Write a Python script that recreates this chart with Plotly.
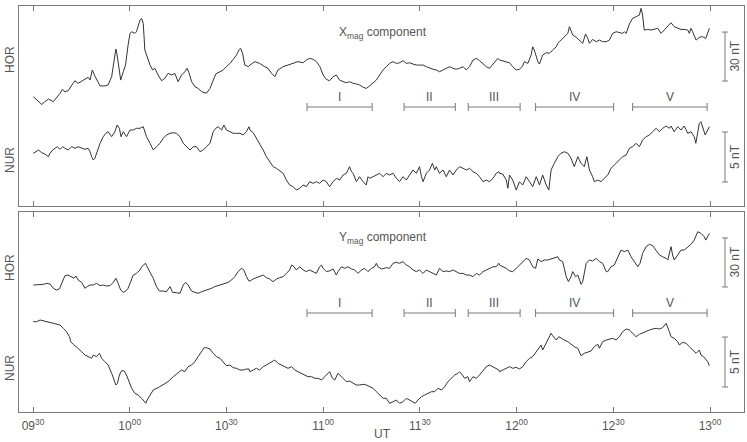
import plotly.graph_objects as go

# ---------------- data (minutes after 09:30 UT, field in nT, arbitrary baselines) ----------------
tick_vals = [0, 30, 60, 90, 120, 150, 180, 210]
tick_text = ["09<sup>30</sup>", "10<sup>00</sup>", "10<sup>30</sup>", "11<sup>00</sup>",
             "11<sup>30</sup>", "12<sup>00</sup>", "12<sup>30</sup>", "13<sup>00</sup>"]

interval_names = ["I", "II", "III", "IV", "V"]
interval_start = [85.0, 115.1, 135.0, 155.9, 186.0]
interval_end = [105.2, 131.0, 151.1, 180.1, 209.1]

# X_mag component, HOR
t_hor_x = [0.1, 1.3, 2.7, 3.7, 4.8, 6.3, 7.3, 8.4, 9.1, 9.9, 10.9, 12.0, 13.0, 14.0, 15.1, 16.1, 17.1, 17.7, 18.4, 19.2,
           20.8, 22.3, 23.3, 24.4, 24.9, 25.4, 25.7, 26.1, 26.7, 27.2, 28.0, 28.7, 29.5, 30.1, 30.6, 31.6, 32.1, 32.6,
           33.2, 33.7, 34.2, 34.7, 35.2, 36.3, 37.1, 37.8, 38.8, 39.9, 40.9, 41.9, 43.0, 44.0, 45.0, 46.1, 47.1, 47.8,
           48.4, 49.2, 50.2, 51.2, 52.3, 53.3, 53.8, 54.9, 55.9, 56.7, 58.0, 59.0, 60.0, 61.1, 62.1, 63.1, 64.0, 64.4,
           65.0, 65.7, 66.8,
           67.3, 68.8, 70.3, 71.9, 72.9, 74.0, 75.0, 76.0, 77.6, 79.1, 80.7, 82.2, 83.8, 84.8, 85.8, 86.9, 87.9, 89.0,
           90.0, 91.0, 92.0, 93.1, 94.1, 95.1, 96.2, 97.2, 98.2, 99.3, 100.3, 101.3, 102.4, 103.4, 104.4, 105.5, 106.5,
           107.5, 108.6, 109.6, 110.6, 111.7, 112.7, 113.7, 114.8, 115.8, 116.8, 117.9, 118.9, 119.9, 121.0, 122.0,
           123.0, 124.1, 125.1, 126.1, 127.2, 128.2, 129.2, 130.3, 131.3, 132.3, 133.4, 134.4, 135.4, 136.5, 137.5,
           138.5, 139.6, 140.6, 141.6, 143.2, 144.2,
           144.7, 146.2, 147.8, 148.8, 149.9, 150.9, 151.9, 152.4, 153.5, 154.5, 155.0, 155.5, 156.6, 157.1, 157.6,
           158.1, 159.2, 160.2, 161.2, 162.3, 162.8, 163.8, 164.8, 165.9, 166.4, 166.9, 167.4, 168.5, 169.5, 170.5,
           171.4, 172.1, 172.6, 173.6, 174.7, 175.7, 176.7, 177.8, 178.8, 179.8, 180.9, 181.9, 182.9, 183.4, 184.0,
           185.0, 186.0, 187.1, 188.1, 188.6, 189.1, 189.6, 190.7, 191.7, 192.7, 193.8, 194.8, 195.8, 196.9, 197.9,
           198.9, 200.0, 201.0, 202.0, 203.1, 203.6, 204.1, 204.6, 205.7, 206.7, 207.7, 208.7, 209.3, 209.8]
v_hor_x = [2.0, 0.0, -2.7, -1.0, 0.6, -1.0, 1.4, 4.1, 6.5, 5.1, 5.7, 9.2, 11.8, 10.2, 11.6, 12.6, 13.9, 12.2, 18.4, 14.7,
           8.6, 8.6, 9.2, 14.3, 20.4, 28.6, 31.2, 27.5, 17.3, 12.2, 17.3, 21.4, 33.7, 40.8, 41.8, 40.8, 41.8, 44.9,
           49.0, 50.0, 46.9, 30.6, 27.5, 21.4, 18.4, 19.4, 15.3, 11.8, 13.3, 16.3, 15.3, 16.3, 11.2, 15.3, 17.3, 19.4,
           16.7, 11.2, 8.2, 7.1, 5.1, 4.1, 4.1, 7.1, 12.2, 15.9, 17.3, 18.4, 20.4, 22.4, 24.9, 27.5, 31.0, 31.6,
           28.6, 21.4, 20.4,
           21.4, 23.5, 22.4, 20.4, 19.4, 16.3, 14.3, 18.4, 20.4, 21.4, 22.4, 23.5, 22.8, 24.5, 25.5, 24.9, 23.5, 20.4,
           15.3, 12.6, 11.8, 14.3, 15.3, 12.2, 11.2, 10.6, 11.2, 10.2, 9.8, 9.2, 7.8, 7.1, 8.6, 10.2, 12.2,
           15.3, 18.4, 20.4, 22.4, 23.5, 22.4, 22.8, 24.1, 22.4, 22.8, 22.0, 21.4, 21.4, 21.4, 20.4,
           19.4, 18.8, 18.4, 17.3, 18.4, 19.4, 20.4, 19.4, 18.8, 19.4, 20.4, 18.4, 20.4, 24.5, 25.5,
           24.1, 22.0, 20.4, 19.4, 23.5, 25.5,
           24.5, 23.5, 22.8, 20.4, 18.4, 18.8, 20.8, 23.5, 22.4, 27.5, 32.6, 30.6, 23.5, 22.0, 25.5,
           27.5, 29.0, 28.6, 30.6, 32.6, 34.7, 36.7, 38.8, 40.8, 44.9, 41.8, 39.8, 38.4, 36.7, 34.7,
           40.4, 37.7, 34.7, 37.1, 35.7, 36.7, 35.7, 35.7, 36.7, 40.8, 41.8, 41.4, 40.8, 41.8, 40.8,
           46.5, 50.0, 51.0, 52.0, 56.1, 52.0, 42.8, 43.2, 42.8, 43.2, 43.9, 40.8, 42.8, 44.9, 47.3,
           44.9, 43.9, 43.2, 43.2, 42.8, 40.8, 43.9, 41.8, 36.7, 38.4, 38.8, 37.7, 40.8, 43.9]

# X_mag component, NUR
t_nur_x = [0.1, 0.9, 1.7, 2.7, 3.7, 4.8, 5.3, 6.1, 6.8, 7.5, 8.4, 9.2, 9.9, 10.9, 12.0, 13.0, 14.0, 15.1, 16.1, 17.1,
           17.7, 18.2, 18.7, 19.2, 19.9, 20.8, 21.8, 22.6, 23.3, 24.4, 25.4, 26.1, 26.8, 27.3, 28.0, 29.0, 30.1, 31.1,
           32.1, 33.2, 34.2, 35.2, 36.3, 37.3, 38.3, 39.4, 40.4, 41.4, 42.5, 43.5, 44.5, 45.6, 46.6, 47.6, 48.7, 49.7,
           50.7, 51.8, 52.8, 53.8, 54.9, 55.9, 56.7, 57.4, 58.5, 59.2, 60.0, 61.1, 62.1, 63.1, 64.2, 65.2, 66.2, 67.0,
           67.3, 68.3, 69.3, 70.3, 71.4, 72.4, 73.4, 74.5, 75.5, 76.5, 77.6, 78.6, 79.6, 80.7, 81.7, 82.7, 83.8, 84.8,
           85.8, 86.9, 87.9, 88.9, 90.0, 91.0, 92.0, 93.1, 94.1, 95.1, 96.2, 97.2, 98.2, 98.8, 99.3, 100.3, 101.3,
           102.4, 103.4, 103.9, 104.4, 105.5, 106.5, 107.5, 108.6, 109.6, 110.6, 111.7, 112.7, 113.7, 114.8, 115.8,
           116.8, 117.9, 118.9, 119.9, 120.5, 121.0, 122.0, 123.0, 123.9, 124.6, 125.1, 126.1, 127.2, 128.2, 129.2,
           130.3, 131.3, 132.3, 133.4, 134.4, 135.4, 136.5, 137.5, 138.5, 139.6, 140.6, 141.6, 142.7, 143.7, 144.5,
           144.7, 145.7, 146.8, 147.3, 147.8, 148.8, 149.9, 150.9, 151.9, 153.0, 154.0, 155.0, 156.1, 157.1, 158.1,
           159.2, 160.0, 160.7, 161.7, 162.8, 163.8, 164.8, 165.9, 166.9, 167.9, 169.0, 170.0, 171.0, 171.8, 172.6,
           173.6, 174.1, 175.2, 176.2, 177.2, 178.3, 179.3, 179.8, 180.9, 181.9, 182.9, 184.0, 185.0, 186.0, 187.1,
           188.1, 189.1, 190.2, 191.2, 192.2, 193.3, 194.3, 195.3, 196.4, 197.4, 197.9, 198.9, 200.0, 201.0, 202.0,
           203.1, 204.1, 205.1, 205.6, 206.2, 206.7, 207.2, 207.9, 208.5, 209.3, 209.8]
v_nur_x = [0.67, 0.83, 1.0, 0.73, 0.6, 0.33, 0.67, 1.0, 1.17, 1.33, 1.07, 1.33, 1.17, 1.0, 1.33, 1.17, 1.33, 1.23, 1.07, 1.17,
           0.83, 0.33, 0.0, 0.17, 0.83, 1.67, 2.33, 2.67, 2.83, 2.33, 2.83, 3.5, 3.17, 2.33, 2.83, 2.33, 3.0, 3.0,
           3.17, 3.17, 3.33, 2.33, 1.67, 1.0, 1.33, 1.67, 2.17, 2.5, 2.67, 2.73, 2.67, 2.33, 1.67, 1.33, 1.0, 1.33,
           1.33, 0.83, 1.0, 1.33, 1.67, 2.83, 3.17, 3.33, 3.0, 3.5, 3.0, 2.83, 2.67, 2.67, 2.67, 2.5, 2.83, 3.33,
           3.0, 2.73, 2.17, 1.67, 1.0, 0.33, -0.17, -0.67, -0.83, -1.07, -1.33, -2.0, -2.5, -2.67, -3.0, -2.83, -2.5, -2.67,
           -2.17, -2.33, -2.17, -2.33, -2.0, -2.17, -2.67, -2.17, -1.83, -2.0, -1.5, -1.33, -0.67, -1.17, -1.33, -2.17, -1.67,
           -2.17, -2.5, -1.67, -1.83, -1.67, -1.5, -1.33, -1.67, -1.33, -1.5, -1.33, -1.83, -2.17, -1.67, -2.0,
           -1.5, -1.0, -1.33, -0.67, -1.67, -2.17, -1.33, -1.0, -0.33, -1.0, -0.67, -1.33, -1.0, -1.67, -1.0,
           -1.5, -1.0, -0.67, -0.83, -1.0, -0.83, -1.17, -1.33, -1.67, -2.17, -2.0, -2.17, -1.83, -1.33, -1.17,
           -1.33, -1.4, -2.0, -2.83, -1.5, -2.0, -3.0, -2.17, -2.5, -1.67, -2.17, -2.67, -1.67, -2.5, -1.5,
           -2.5, -3.0, -1.0, -0.33, 0.33, 0.67, 0.83, 0.67, 0.17, -0.67, 0.33, -0.33, -0.67, 0.33, -1.0,
           -1.67, -2.17, -2.0, -2.17, -1.83, -1.5, -0.83, -0.67, -0.33, 0.0, 0.33, 0.5, 1.17, 1.33, 1.67,
           1.33, 2.0, 2.33, 2.5, 2.83, 3.17, 2.83, 3.17, 3.4, 3.17, 3.4, 2.83, 3.33, 3.0, 3.4,
           2.67, 2.83, 2.33, 1.67, 2.67, 3.67, 3.83, 3.17, 2.5, 3.0, 3.33]

# Y_mag component, HOR
t_hor_y = [0.1, 1.7, 3.2, 4.2, 5.3, 6.3, 7.3, 8.2, 8.9, 9.9, 10.9, 12.0, 12.7, 13.3, 14.0, 15.1, 16.1, 16.8, 17.7, 18.7,
           19.7, 20.8, 21.8, 22.8, 23.9, 24.9, 25.7, 26.4, 27.2, 28.0, 28.8, 29.5, 30.3, 31.1, 32.1, 33.2, 33.7, 34.4,
           34.9, 35.4, 36.3, 37.3, 38.3, 39.2, 40.4, 41.4, 42.5, 43.3, 44.5, 45.6, 46.6, 47.4, 48.1, 49.2, 50.2, 51.2,
           52.3, 53.3, 54.3, 55.4, 56.4, 57.4, 58.5, 59.5, 60.5, 61.6, 62.6, 63.6, 64.7, 65.4, 66.2, 67.0,
           67.3, 68.3, 69.3, 70.3, 71.4, 72.4, 73.4, 74.5, 75.5, 76.5, 77.6, 78.6, 79.6, 80.2, 80.7, 81.7, 82.7, 83.8,
           84.8, 85.8, 86.9, 87.9, 88.9, 89.5, 90.0, 91.0, 92.0, 93.1, 94.1, 94.6, 95.7, 96.7, 97.7, 98.8, 99.8, 100.8,
           101.9, 102.9, 103.9, 105.0, 106.0, 106.5, 107.0, 108.1, 109.6, 110.6, 111.7, 112.7, 113.7, 114.8, 115.8,
           116.8, 117.9, 118.9, 119.9, 121.0, 122.0, 123.0, 124.1, 125.1, 126.1, 127.2, 128.2, 129.2, 130.3, 131.3,
           132.3, 133.4, 134.4, 135.4, 136.5, 137.5, 138.5, 139.6, 140.6, 141.6, 142.7, 143.7, 144.5,
           144.7, 145.7, 146.8, 147.8, 148.8, 149.9, 150.9, 151.9, 153.0, 154.0, 155.0, 155.9, 156.6, 157.6, 158.6,
           159.7, 160.7, 161.7, 162.8, 163.3, 164.3, 164.8, 165.4, 166.1, 166.9, 167.4, 168.3, 169.0, 169.5, 170.0,
           170.5, 171.6, 172.6, 173.6, 174.7, 175.7, 176.7, 177.8, 178.3, 179.3, 180.3, 181.4, 182.4, 183.4, 184.5,
           185.5, 186.5, 187.6, 188.3, 189.1, 190.2, 191.2, 192.2, 193.3, 194.3, 195.3, 196.4, 196.9, 197.6, 197.9,
           198.4, 198.9, 200.0, 201.0, 202.0, 203.1, 204.1, 205.1, 206.2, 207.2, 208.2, 208.7, 209.8]
v_hor_y = [0.0, 0.0, 0.4, 1.0, 0.6, -2.0, -3.1, -2.4, 1.0, 5.7, 6.1, 5.1, 4.1, 5.5, 3.1, 1.6, -2.0, -1.0, 0.0, 0.0,
           1.0, -0.4, 0.0, -0.6, -0.4, 1.6, 4.1, 1.0, -3.1, -4.5, -3.7, -2.0, 2.0, 6.1, 7.1, 9.2, 11.2, 12.2,
           13.3, 11.2, 8.2, 4.1, -1.0, -3.7, -3.7, -4.1, -1.0, -4.5, -4.7, -5.1, 0.0, 1.6, 0.0, -3.7, -4.5, -5.1,
           -4.1, -3.5, -3.1, -2.0, -1.0, -0.4, 0.0, 1.0, 1.6, 3.1, 5.1, 8.2, 10.2, 9.2, 5.1, 2.4,
           2.4, 3.7, 4.5, 5.1, 6.1, 4.5, 3.7, 2.0, 3.7, 4.5, 5.1, 7.1, 9.2, 12.2, 11.8, 9.2, 11.2, 9.2,
           8.2, 9.2, 8.2, 7.1, 11.2, 12.2, 10.2, 8.2, 8.6, 9.8, 6.1, 8.2, 11.2, 10.2, 11.2, 9.8, 9.2, 7.1,
           9.2, 10.2, 8.2, 10.2, 11.2, 13.3, 11.2, 9.8, 10.6, 10.2, 13.3, 13.9, 13.3, 14.3, 12.2,
           11.2, 9.2, 8.2, 9.2, 7.1, 9.2, 8.2, 7.1, 6.1, 10.2, 8.2, 8.6, 8.2, 9.2, 8.2,
           7.1, 7.1, 6.1, 6.1, 5.1, 7.1, 6.1, 8.2, 9.2, 10.2, 11.2, 11.2, 13.3,
           12.2, 11.2, 10.2, 8.6, 8.2, 10.2, 12.2, 14.3, 16.3, 15.3, 11.2, 10.2, 15.9, 14.3, 15.3,
           15.3, 15.9, 16.3, 17.3, 15.3, 14.3, 10.2, 5.1, 2.0, 5.1, 8.2, 5.1, 6.1, 3.1, 0.4,
           2.0, 13.3, 15.3, 14.7, 16.3, 14.3, 13.3, 8.2, 8.2, 11.2, 12.2, 17.3, 21.4, 20.4, 21.4,
           17.3, 14.3, 11.2, 13.3, 19.4, 23.5, 24.9, 24.1, 21.4, 18.4, 17.3, 16.3, 15.3, 20.4, 23.5,
           18.4, 15.3, 18.4, 21.4, 21.4, 23.5, 24.9, 27.5, 32.6, 31.6, 29.6, 27.5, 31.6]

# Y_mag component, NUR
t_nur_y = [0.1, 1.1, 2.2, 3.2, 4.2, 5.3, 6.8, 8.4, 9.4, 10.4, 11.3, 11.7, 12.5, 14.0, 15.1, 16.1, 17.1, 18.2, 18.7, 19.7,
           20.6, 21.3, 22.3, 23.3, 24.4, 25.1, 25.7, 26.2, 26.8, 27.5, 28.2, 29.0, 29.9, 30.6, 31.6, 32.6, 33.7, 34.4,
           35.0, 35.4, 36.3, 37.3, 38.8, 40.4, 41.9, 43.5, 45.0, 46.1, 47.1, 48.1, 49.2, 50.2, 51.2, 52.3, 53.1, 53.8,
           54.9, 55.9, 56.9, 58.0, 59.0, 60.0, 61.1, 62.1, 63.1, 64.2, 65.2, 66.2, 67.0,
           67.3, 68.3, 69.3, 70.3, 71.4, 72.4, 73.4, 74.5, 75.0, 76.0, 77.1, 78.1, 79.1, 80.2, 81.2, 82.2, 83.3, 84.3,
           85.3, 86.4, 87.4, 88.4, 89.5, 90.5, 91.5, 92.0, 92.9, 93.6, 94.6, 95.1, 96.2, 97.2, 98.2, 99.3, 100.3,
           101.3, 102.4, 103.4, 104.4, 105.5, 106.5, 107.5, 108.6, 109.6, 110.6, 111.7, 112.7, 113.7, 114.8, 115.8,
           116.8, 117.9, 118.6, 119.4, 120.5, 121.5, 122.5, 123.6, 124.6, 125.6, 126.7, 127.7, 128.7, 129.8, 130.8,
           131.8, 132.3, 133.2, 133.9, 134.9, 135.4, 136.5, 137.5, 138.5, 139.6, 140.6, 141.6, 142.7, 143.7, 144.5,
           144.7, 145.7, 146.8, 147.8, 148.8, 149.9, 150.9, 151.9, 153.0, 154.0, 155.0, 156.1, 157.1, 157.6, 158.1,
           159.2, 160.2, 160.7, 161.2, 162.3, 163.1, 163.8, 164.8, 165.9, 166.9, 167.9, 169.0, 170.0, 171.0, 172.1,
           173.1, 174.1, 175.2, 175.7, 176.7, 177.8, 178.8, 179.8, 180.9, 181.9, 182.9, 184.0, 185.0, 186.0, 187.1,
           188.1, 189.1, 190.2, 191.2, 192.2, 193.3, 194.3, 195.3, 196.4, 196.9, 197.4, 197.9, 198.9, 200.0, 200.5,
           201.5, 202.6, 203.6, 204.6, 205.7, 206.7, 207.2, 208.0, 208.8, 209.3, 209.8]
v_nur_y = [3.83, 3.83, 4.0, 3.93, 3.83, 3.77, 3.67, 3.5, 3.17, 2.83, 2.33, 1.83, 1.57, 1.17, 0.83, 0.5, 0.33, 0.17, 0.5, 0.33,
           0.67, 0.17, -0.17, -0.5, -1.33, -2.0, -2.5, -2.33, -1.5, -1.07, -1.07, -1.5, -2.17, -2.83, -3.33, -3.5, -3.83, -4.17,
           -4.33, -4.0, -3.5, -3.0, -2.77, -2.5, -2.17, -1.67, -1.33, -1.0, -1.17, -0.67, -0.5, -0.17, 0.33, 0.83, 1.23, 1.23,
           1.1, 0.67, 0.33, 0.17, -0.17, -0.57, -0.5, -0.77, -0.83, -1.0, -1.0, -0.9, -0.9,
           -1.17, -1.0, -0.83, -1.0, -0.67, -0.5, -0.33, -0.1, 0.0, -0.33, -0.5, -0.67, -0.83, -0.67, -1.0, -1.17, -1.33, -1.5,
           -1.67, -1.67, -1.83, -1.83, -2.0, -1.67, -1.33, -1.17, -1.83, -2.0, -1.33, -1.5, -1.83, -2.17, -2.1, -2.33, -2.5,
           -2.5, -2.43, -2.5, -2.67, -2.83, -3.17, -3.5, -3.83, -3.83, -4.33, -4.17, -4.0, -4.33, -4.17, -3.83,
           -4.0, -4.17, -4.33, -4.0, -3.67, -3.5, -3.33, -3.17, -3.17, -2.83, -3.0, -2.67, -2.17, -1.83, -1.5,
           -1.33, -1.17, -1.5, -1.83, -1.67, -2.17, -1.67, -1.83, -1.5, -1.0, -0.67, -0.5, -0.67, -0.83, -1.0,
           -1.17, -1.0, -0.77, -0.67, -0.83, -0.73, -0.9, -0.67, -0.17, 0.17, 0.33, 0.83, 1.17, 1.5, 1.0,
           1.67, 2.33, 2.67, 2.43, 2.0, 2.33, 2.17, 2.0, 1.83, 1.57, 1.33, 1.17, 0.43, 0.67, 0.83,
           0.9, 1.33, 1.57, 1.17, 1.83, 2.0, 2.1, 2.17, 2.0, 2.33, 2.83, 3.1, 3.0, 2.67, 2.33,
           2.57, 2.73, 2.83, 3.0, 3.1, 3.17, 3.1, 3.23, 3.67, 3.33, 2.83, 2.33, 2.17, 1.83, 1.5,
           1.77, 1.67, 1.33, 1.0, 0.67, 1.0, 0.5, 0.33, 0.0, -0.17, -0.57]

# ---------------- layout geometry ----------------
W, H = 747, 442
ML, MR, MT, MB = 19, 3, 6, 30
PW, PH = W - ML - MR, H - MT - MB

MIN_PER_PX = 210.0 / (710 - 33)   # 09:30 at x=33 px, 13:00 at x=710 px


def py(px):          # pixel row -> paper y
    return (H - MB - px) / PH


def pxx(px):         # pixel column -> paper x
    return (px - ML) / PW


x_range = [(ML - 33) * MIN_PER_PX, (W - MR - 33) * MIN_PER_PX]
top_dom = [py(206), 1.0]
bot_dom = [0.0, py(212)]

# vertical scales: nT per pixel, and pixel row of the zero level for each series
hor_scale = 30 / 49.0
nur_scale = 5 / 50.0


def yr(scale, zero_px, top_px, bottom_px):
    return [(zero_px - bottom_px) * scale, (zero_px - top_px) * scale]


r_hor_x = yr(hor_scale, 100, 6, 206)
r_nur_x = yr(nur_scale, 160, 6, 206)
r_hor_y = yr(hor_scale, 285, 212, 412)
r_nur_y = yr(nur_scale, 360, 212, 412)

frame_col = "#7a7a7a"
text_col = "#555555"
curve = dict(color="#333333", width=1)
font = dict(family="Liberation Sans, Arial, sans-serif", size=12, color=text_col)

fig = go.Figure()
# invisible traces so the frame subplots exist
fig.add_trace(go.Scatter(x=[None], y=[None], xaxis="x", yaxis="y", mode="lines", hoverinfo="skip"))
fig.add_trace(go.Scatter(x=[None], y=[None], xaxis="x2", yaxis="y4", mode="lines", hoverinfo="skip"))
fig.add_trace(go.Scatter(x=t_hor_x, y=v_hor_x, xaxis="x2", yaxis="y5", mode="lines", line=curve))
fig.add_trace(go.Scatter(x=t_nur_x, y=v_nur_x, xaxis="x2", yaxis="y6", mode="lines", line=curve))
fig.add_trace(go.Scatter(x=t_hor_y, y=v_hor_y, xaxis="x", yaxis="y2", mode="lines", line=curve))
fig.add_trace(go.Scatter(x=t_nur_y, y=v_nur_y, xaxis="x", yaxis="y3", mode="lines", line=curve))

xcommon = dict(range=x_range, showgrid=False, zeroline=False, showline=True, linecolor=frame_col,
               linewidth=1, mirror="ticks", ticks="inside", ticklen=5, tickcolor=frame_col,
               tickvals=tick_vals, ticktext=tick_text, tickfont=font, fixedrange=True, automargin=False)
frame_y = dict(range=[0, 1], showgrid=False, zeroline=False, showline=True, linecolor=frame_col,
               linewidth=1, mirror=True, ticks="", showticklabels=False, fixedrange=True, automargin=False)
hidden = dict(showgrid=False, zeroline=False, showline=False, ticks="", showticklabels=False,
              fixedrange=True, automargin=False)

fig.update_layout(
    width=W, height=H, margin=dict(l=ML, r=MR, t=MT, b=MB, autoexpand=False),
    paper_bgcolor="white", plot_bgcolor="rgba(0,0,0,0)", showlegend=False,
    xaxis=dict(**xcommon, domain=[0, 1], anchor="y", ticklabelstandoff=3),
    xaxis2=dict(**xcommon, domain=[0, 1], anchor="y4", showticklabels=False),
    yaxis=dict(**frame_y, domain=bot_dom, anchor="x"),
    yaxis2=dict(**hidden, domain=bot_dom, anchor="x", range=r_hor_y),
    yaxis3=dict(**hidden, domain=bot_dom, anchor="x", range=r_nur_y),
    yaxis4=dict(**frame_y, domain=top_dom, anchor="x2"),
    yaxis5=dict(**hidden, domain=top_dom, anchor="x2", range=r_hor_x),
    yaxis6=dict(**hidden, domain=top_dom, anchor="x2", range=r_nur_x),
)

shapes = []
annos = []
bar = dict(color=frame_col, width=1)

# interval markers
for bar_px, lab_px, xref in [(107, 97, "x2"), (313, 303, "x")]:
    yb = py(bar_px)
    cap = 4 / PH
    for name, s, e in zip(interval_names, interval_start, interval_end):
        shapes.append(dict(type="line", xref=xref, yref="paper", x0=s, x1=e, y0=yb, y1=yb, line=bar))
        for xx in (s, e):
            shapes.append(dict(type="line", xref=xref, yref="paper", x0=xx, x1=xx, y0=yb - cap, y1=yb + cap, line=bar))
        annos.append(dict(x=(s + e) / 2, y=py(lab_px), xref=xref, yref="paper", text=name,
                          showarrow=False, font=font, xanchor="center", yanchor="middle"))

# scale bars
sx = pxx(725)
cw = 3 / PW
for yref, lo, length, label in [("y5", 11.6, 30, "30 nT"), ("y6", -2.2, 5, "5 nT"),
                                ("y2", -1.2, 30, "30 nT"), ("y3", -2.7, 5, "5 nT")]:
    hi = lo + length
    shapes.append(dict(type="line", xref="paper", yref=yref, x0=sx, x1=sx, y0=lo, y1=hi, line=bar))
    for yy in (lo, hi):
        shapes.append(dict(type="line", xref="paper", yref=yref, x0=sx - cw, x1=sx + cw, y0=yy, y1=yy, line=bar))
    annos.append(dict(x=pxx(735), y=(lo + hi) / 2, xref="paper", yref=yref, text=label, textangle=-90,
                      showarrow=False, font=font, xanchor="center", yanchor="middle"))

# station labels
for txt, ypx in [("HOR", 60), ("NUR", 160), ("HOR", 268), ("NUR", 368)]:
    annos.append(dict(x=pxx(10), y=py(ypx), xref="paper", yref="paper", text=txt, textangle=-90,
                      showarrow=False, font=font, xanchor="center", yanchor="middle"))

# component titles
annos.append(dict(x=108.5, y=py(33), xref="x2", yref="paper", text="X<sub>mag</sub> component",
                  showarrow=False, font=font, xanchor="center", yanchor="middle"))
annos.append(dict(x=108.5, y=py(238), xref="x", yref="paper", text="Y<sub>mag</sub> component",
                  showarrow=False, font=font, xanchor="center", yanchor="middle"))

# time axis title
annos.append(dict(x=pxx(383), y=py(434), xref="paper", yref="paper", text="UT",
                  showarrow=False, font=font, xanchor="center", yanchor="middle"))

fig.update_layout(shapes=shapes, annotations=annos)
fig.write_html("out.html")
